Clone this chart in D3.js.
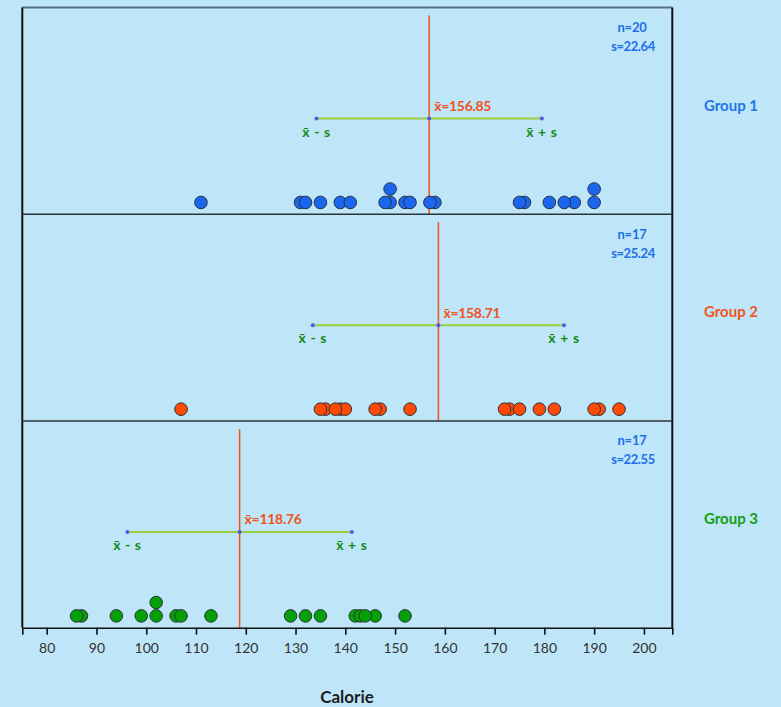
<!DOCTYPE html>
<html>
<head>
<meta charset="utf-8">
<script src="https://cdn.jsdelivr.net/npm/d3@7"></script>
<style>
  html, body { margin: 0; padding: 0; background: #bee6f8; }
  svg { display: block; font-family: Lato, "Open Sans", sans-serif; }
</style>
</head>
<body>
<div id="chart"></div>
<script>
// Calorie values per group
const groupNames = ["Group 1", "Group 2", "Group 3"];
const group1 = [186, 181, 176, 149, 184, 190, 158, 139, 175, 148, 152, 111, 141, 153, 190, 157, 131, 149, 135, 132];
const group2 = [173, 191, 182, 190, 172, 147, 146, 139, 175, 136, 179, 153, 107, 195, 135, 140, 138];
const group3 = [129, 132, 102, 106, 94, 102, 87, 99, 107, 113, 135, 142, 86, 143, 152, 146, 144];
const xTicks = [80, 90, 100, 110, 120, 130, 140, 150, 160, 170, 180, 190, 200];
const groupColors = ["#1a66ee", "#ff4a05", "#05a005"];
const labelColors = ["#1f74ea", "#f2561c", "#12a012"];

(function () {
  const W = 781, H = 707;
  const left = 22.3, right = 672.3, top = 7.5, bottom = 627.7;
  const panelH = (bottom - top) / 3;

  const svg = d3.select("#chart").append("svg").attr("width", W).attr("height", H);

  const x = d3.scaleLinear().domain([75.1, 205.7]).range([left, right]);

  const data = [group1, group2, group3];

  data.forEach((vals, gi) => {
    const py = top + gi * panelH;
    const g = svg.append("g");
    const mean = d3.mean(vals);
    const sd = d3.deviation(vals);

    // mean line
    g.append("line")
      .attr("x1", x(mean)).attr("x2", x(mean))
      .attr("y1", py + 8).attr("y2", py + panelH)
      .attr("stroke", "#f0521e").attr("stroke-width", 1.5);

    // +/- s line
    const ly = py + 111;
    g.append("line")
      .attr("x1", x(mean - sd)).attr("x2", x(mean + sd))
      .attr("y1", ly).attr("y2", ly)
      .attr("stroke", "#9ccd3c").attr("stroke-width", 2);
    [mean - sd, mean, mean + sd].forEach((v) => {
      g.append("circle").attr("cx", x(v)).attr("cy", ly).attr("r", 2)
        .attr("fill", "#4a5ce6");
    });

    g.append("text")
      .attr("x", x(mean) + 5).attr("y", py + 103.5)
      .attr("fill", "#f2521c").attr("font-size", 14).attr("font-weight", "bold")
      .attr("letter-spacing", -0.3)
      .text("x̄=" + mean.toFixed(2));

    [["x̄ - s", mean - sd], ["x̄ + s", mean + sd]].forEach(([t, v]) => {
      g.append("text")
        .attr("x", x(v)).attr("y", py + 129)
        .attr("text-anchor", "middle")
        .attr("fill", "#168a16").attr("font-size", 14).attr("font-weight", "bold")
        .attr("letter-spacing", 0.6)
        .text(t);
    });

    // n and s
    g.append("text")
      .attr("x", 632).attr("y", py + 24.5)
      .attr("text-anchor", "middle").attr("fill", "#1f6fe8")
      .attr("font-size", 13).attr("font-weight", "bold").attr("letter-spacing", -0.2)
      .text("n=" + vals.length);
    g.append("text")
      .attr("x", 633).attr("y", py + 43.5)
      .attr("text-anchor", "middle").attr("fill", "#1f6fe8")
      .attr("font-size", 13).attr("font-weight", "bold").attr("letter-spacing", -0.4)
      .text("s=" + sd.toFixed(2));

    // dots, identical values stacked
    const seen = {};
    const pts = vals.map((v) => {
      seen[v] = (seen[v] || 0) + 1;
      return { v: v, k: seen[v] - 1 };
    });
    g.selectAll("circle.dot")
      .data(pts)
      .join("circle")
      .attr("class", "dot")
      .attr("cx", (d) => x(d.v))
      .attr("cy", (d) => py + panelH - 11.8 - d.k * 13.4)
      .attr("r", 6.3)
      .attr("fill", groupColors[gi])
      .attr("stroke", "#2a3340")
      .attr("stroke-width", 1);

    // group label
    svg.append("text")
      .attr("x", 731).attr("y", py + 103)
      .attr("text-anchor", "middle").attr("fill", labelColors[gi])
      .attr("font-size", 15).attr("font-weight", "bold")
      .text(groupNames[gi]);
  });

  // frame
  svg.append("line").attr("x1", left).attr("x2", right).attr("y1", top).attr("y2", top)
    .attr("stroke", "#56707e").attr("stroke-width", 2);
  svg.append("line").attr("x1", left).attr("x2", left).attr("y1", top).attr("y2", bottom)
    .attr("stroke", "#111").attr("stroke-width", 2);
  svg.append("line").attr("x1", right).attr("x2", right).attr("y1", top).attr("y2", bottom)
    .attr("stroke", "#111").attr("stroke-width", 2);
  [1, 2].forEach((i) => {
    svg.append("line").attr("x1", left).attr("x2", right)
      .attr("y1", top + i * panelH).attr("y2", top + i * panelH)
      .attr("stroke", "#2b3238").attr("stroke-width", 1.6);
  });

  // x axis
  const axis = svg.append("g")
    .attr("transform", `translate(0,${bottom})`)
    .call(d3.axisBottom(x).tickValues(xTicks).tickSize(7).tickSizeOuter(7).tickPadding(8));
  axis.select(".domain").attr("stroke", "#111").attr("stroke-width", 1.6);
  axis.selectAll(".tick line").attr("stroke", "#111").attr("stroke-width", 1.6);
  axis.selectAll(".tick text")
    .attr("fill", "#333").attr("font-size", 14)
    .attr("font-family", "Lato, 'Open Sans', sans-serif");

  svg.append("text")
    .attr("x", 347).attr("y", 703)
    .attr("text-anchor", "middle").attr("fill", "#1c1c1c")
    .attr("font-size", 17).attr("font-weight", "bold")
    .text("Calorie");
})();
</script>
</body>
</html>
